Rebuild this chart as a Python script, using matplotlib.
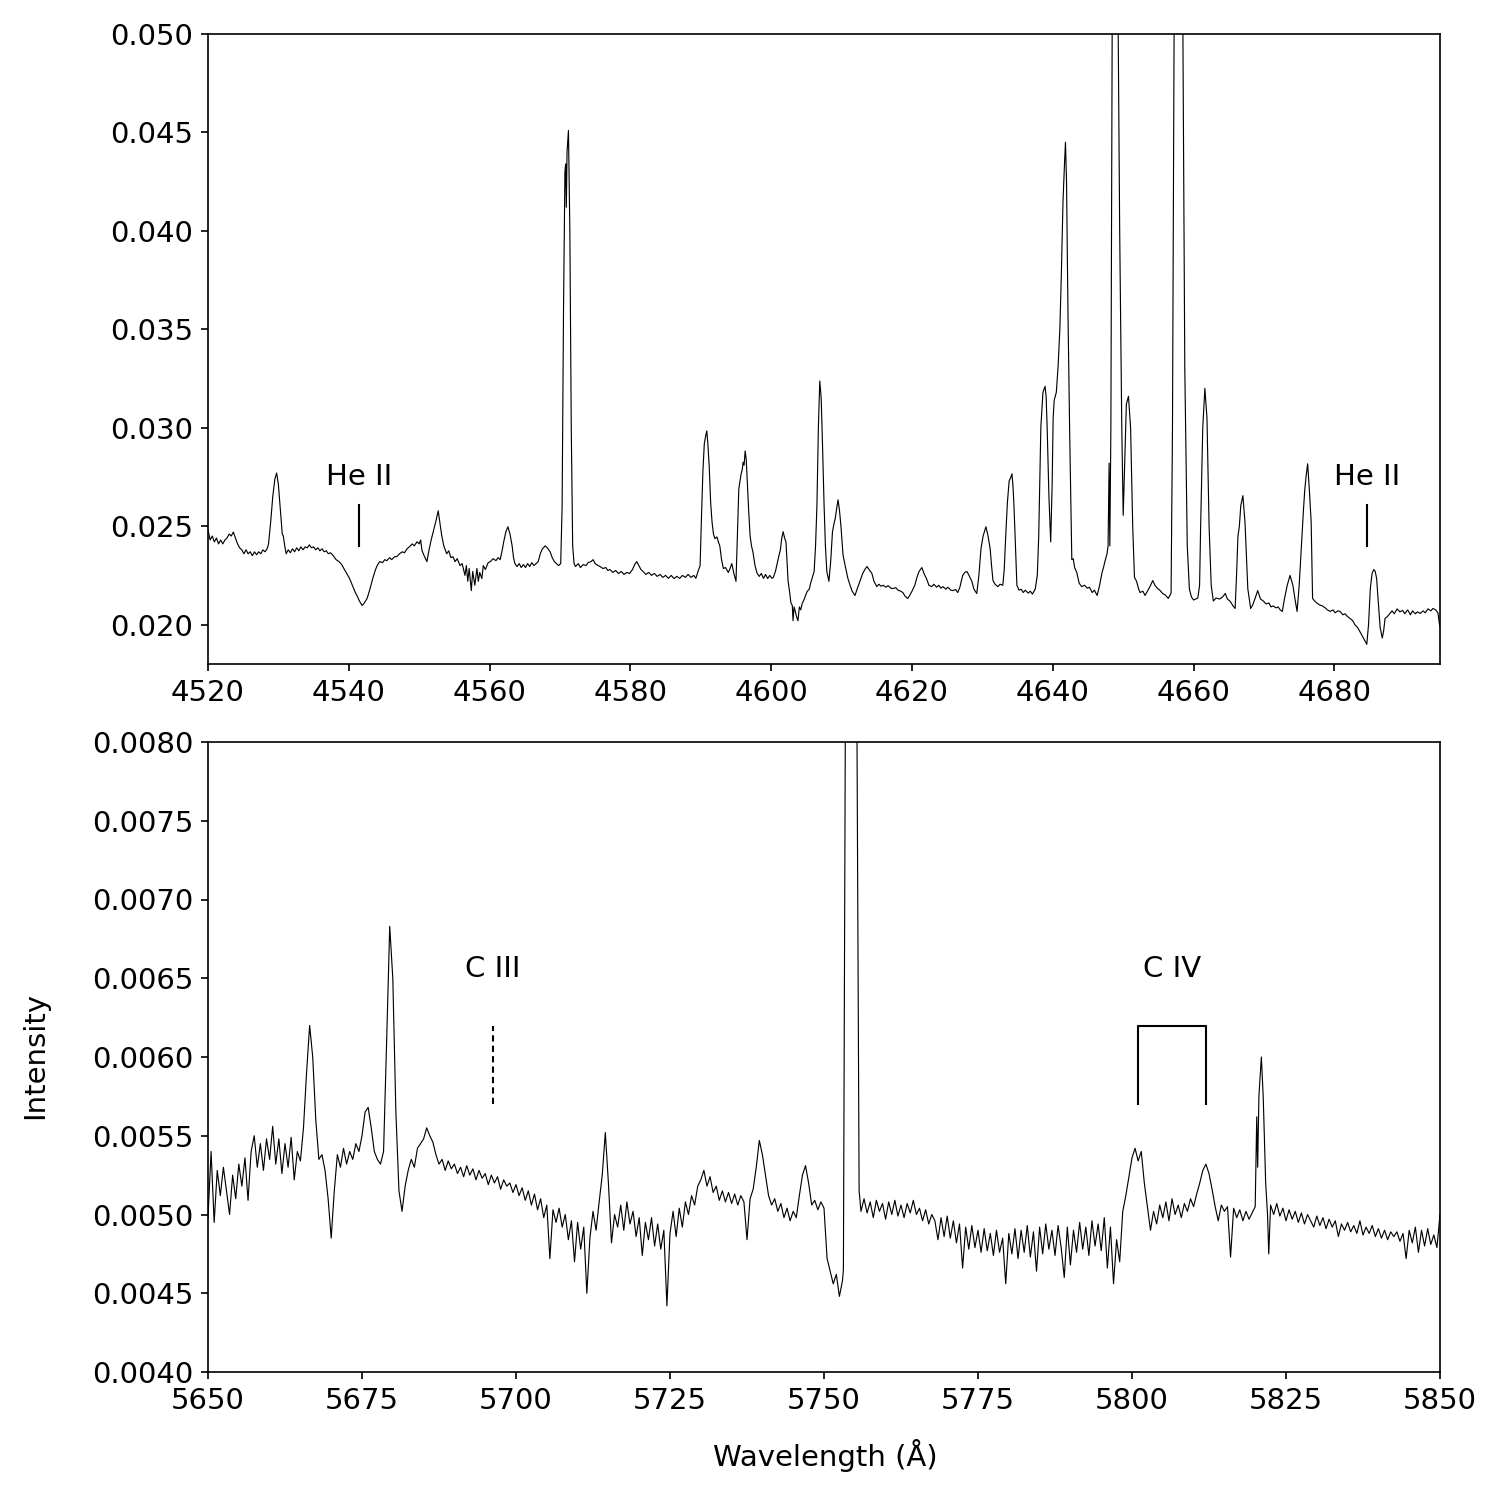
import matplotlib
matplotlib.use("Agg")
import matplotlib.pyplot as plt
from matplotlib.ticker import FormatStrFormatter
import numpy as np

# ---------------- data (intensity in units of 1e-4) ----------------
top_spectrum = [
(4520.0, 248), (4520.3, 243), (4520.6, 245), (4520.9, 242), (4521.2, 244), (4521.5, 241), (4521.8, 243), (4522.1, 241),
(4522.4, 243), (4522.7, 244), (4523.0, 246), (4523.3, 245), (4523.6, 247), (4523.9, 244), (4524.2, 241), (4524.5, 239),
(4524.8, 238), (4525.1, 236), (4525.4, 238), (4525.7, 236), (4526.0, 237), (4526.3, 235), (4526.6, 237), (4526.9, 235.5),
(4527.2, 237), (4527.5, 236), (4527.8, 238), (4528.1, 237), (4528.4, 238.5), (4528.6, 241), (4528.9, 252), (4529.2, 265),
(4529.5, 274), (4529.75, 277), (4530.0, 271), (4530.3, 257), (4530.55, 246), (4530.7, 245), (4530.9, 240), (4531.1, 236),
(4531.4, 238), (4531.7, 236.5), (4532.0, 238.5), (4532.3, 237), (4532.6, 239), (4532.9, 237.5), (4533.2, 239.5), (4533.5, 238),
(4533.8, 239.5), (4534.1, 239), (4534.4, 240.5), (4534.7, 239), (4535.0, 239.5), (4535.3, 238), (4535.6, 239), (4535.9, 237.5),
(4536.2, 238.5), (4536.5, 237), (4536.8, 237.5), (4537.1, 236), (4537.4, 236.5), (4537.8, 235), (4538.2, 233), (4538.6, 232),
(4539.0, 230.5), (4539.3, 228.5), (4539.7, 226), (4540.1, 223.5), (4540.5, 220), (4540.9, 216.5), (4541.2, 214.5), (4541.5, 212),
(4541.9, 209.7), (4542.2, 211), (4542.6, 213.3), (4543.0, 218), (4543.4, 223.4), (4543.8, 228), (4544.1, 230.5), (4544.4, 232),
(4544.8, 231.5), (4545.1, 233), (4545.4, 232.5), (4545.8, 234), (4546.1, 233), (4546.5, 234.5), (4546.8, 234.5), (4547.2, 236),
(4547.6, 237), (4547.9, 236.5), (4548.3, 238.6), (4548.6, 239.5), (4549.0, 241), (4549.3, 240), (4549.7, 242.1), (4550.0, 241),
(4550.2, 243), (4550.4, 237.6), (4550.7, 235), (4551.1, 232), (4551.4, 238), (4551.7, 243), (4552.0, 247.2), (4552.4, 253),
(4552.7, 257.8), (4553.0, 250), (4553.2, 245.2), (4553.5, 240), (4553.9, 236), (4554.2, 237.5), (4554.5, 234), (4554.8, 234.5),
(4555.1, 232), (4555.4, 233.5), (4555.8, 230), (4556.1, 231), (4556.5, 225), (4556.7, 230), (4556.9, 222), (4557.1, 228.5),
(4557.4, 217.3), (4557.6, 227), (4557.9, 220), (4558.2, 228.5), (4558.4, 222), (4558.6, 226.5), (4558.9, 223.4), (4559.1, 230),
(4559.4, 228), (4559.8, 231.5), (4560.1, 232), (4560.5, 233.5), (4560.9, 232.5), (4561.2, 234), (4561.5, 233), (4561.8, 238),
(4562.0, 242), (4562.3, 247), (4562.6, 249.7), (4562.9, 246), (4563.2, 240), (4563.4, 234), (4563.6, 231), (4563.9, 229.5),
(4564.2, 231), (4564.5, 229), (4564.8, 230.5), (4565.1, 229), (4565.4, 231), (4565.7, 229.5), (4566.0, 231.5), (4566.3, 230),
(4566.6, 231), (4566.9, 232), (4567.2, 236), (4567.5, 238.5), (4567.9, 240), (4568.2, 239), (4568.6, 237), (4568.9, 234),
(4569.2, 232), (4569.5, 231), (4569.8, 230), (4570.1, 231), (4570.3, 260), (4570.5, 360), (4570.7, 430), (4570.8, 434),
(4570.9, 412), (4571.0, 440), (4571.2, 451), (4571.4, 400), (4571.6, 300), (4571.8, 240), (4572.0, 231), (4572.2, 229.5),
(4572.6, 231), (4572.9, 229), (4573.3, 230.5), (4573.7, 230), (4574.0, 231.5), (4574.4, 232), (4574.7, 233), (4575.0, 231),
(4575.4, 230), (4575.7, 229.5), (4576.1, 228.5), (4576.5, 229), (4576.8, 227.5), (4577.1, 228), (4577.5, 226.5), (4577.9, 227.5),
(4578.3, 226), (4578.7, 227), (4579.1, 225.5), (4579.5, 226.5), (4579.9, 226), (4580.3, 228), (4580.6, 230.5), (4580.9, 232),
(4581.2, 230), (4581.5, 228), (4581.8, 227), (4582.2, 225.5), (4582.6, 226.5), (4583.0, 225), (4583.4, 226), (4583.8, 224.5),
(4584.2, 225.5), (4584.6, 224), (4585.0, 225), (4585.4, 223.5), (4585.8, 225), (4586.2, 223.4), (4586.6, 224.5), (4587.0, 223.5),
(4587.4, 225), (4587.8, 224), (4588.2, 225.5), (4588.6, 224), (4589.0, 225), (4589.3, 223.5), (4589.6, 227), (4589.9, 230),
(4590.1, 255), (4590.3, 278), (4590.5, 292), (4590.7, 296), (4590.85, 298.4), (4591.0, 292), (4591.2, 280), (4591.4, 262),
(4591.6, 252), (4591.8, 246), (4592.0, 243.7), (4592.3, 244.5), (4592.5, 242), (4592.7, 240), (4592.95, 233), (4593.2, 228.5),
(4593.5, 229), (4593.9, 226.5), (4594.1, 228), (4594.4, 231), (4594.7, 226), (4595.0, 222), (4595.2, 245), (4595.4, 269),
(4595.7, 276), (4595.9, 279), (4596.0, 282.5), (4596.15, 281), (4596.3, 288.2), (4596.45, 284), (4596.6, 272.5), (4596.8, 258),
(4597.0, 245.2), (4597.2, 240), (4597.4, 237), (4597.7, 230), (4598.0, 226), (4598.3, 224.5), (4598.6, 226), (4598.9, 223.5),
(4599.2, 225.5), (4599.5, 223.4), (4599.8, 225), (4600.1, 223.5), (4600.3, 224), (4600.6, 227), (4601.0, 233.5), (4601.3, 238),
(4601.5, 244), (4601.7, 247.2), (4601.9, 244), (4602.1, 242), (4602.25, 232), (4602.4, 222), (4602.6, 217), (4602.8, 211),
(4603.0, 209.7), (4603.1, 202), (4603.25, 209), (4603.4, 207), (4603.6, 204), (4603.8, 202), (4604.0, 209), (4604.2, 207.5),
(4604.4, 210.7), (4604.7, 213), (4604.9, 215), (4605.1, 216.8), (4605.4, 218), (4605.6, 221), (4605.8, 223.4), (4606.1, 227),
(4606.3, 240), (4606.5, 261), (4606.7, 300), (4606.9, 323.7), (4607.1, 315), (4607.3, 290), (4607.5, 262), (4607.7, 240),
(4607.9, 227), (4608.2, 222), (4608.45, 232), (4608.7, 247), (4608.9, 251), (4609.1, 254), (4609.3, 259), (4609.5, 263.4),
(4609.7, 258), (4609.9, 250.3), (4610.05, 243), (4610.2, 235.5), (4610.5, 230), (4610.9, 223.4), (4611.2, 220), (4611.5, 217),
(4611.9, 214.8), (4612.2, 218), (4612.6, 222), (4613.0, 226), (4613.3, 228), (4613.6, 229.5), (4613.9, 228), (4614.3, 226),
(4614.6, 222), (4615.0, 219.3), (4615.3, 220.5), (4615.6, 219.5), (4615.9, 220), (4616.3, 219), (4616.6, 219.8), (4617.0, 218.5),
(4617.3, 218.3), (4617.7, 218.8), (4618.0, 217.5), (4618.4, 217), (4618.7, 216.3), (4619.0, 214.5), (4619.4, 213.3), (4619.7, 215),
(4620.0, 217), (4620.4, 220), (4620.7, 224), (4621.0, 227), (4621.4, 229), (4621.7, 226), (4622.1, 223), (4622.4, 220),
(4622.8, 219.3), (4623.1, 220.5), (4623.5, 219), (4623.8, 220), (4624.1, 218.5), (4624.4, 219.3), (4624.8, 218), (4625.1, 219),
(4625.5, 217.5), (4625.8, 217.3), (4626.2, 217.8), (4626.5, 216.3), (4626.8, 219), (4627.2, 225), (4627.5, 226.5), (4627.8, 227),
(4628.1, 225), (4628.5, 222), (4628.8, 218), (4629.2, 215.8), (4629.5, 225), (4629.8, 238.6), (4630.1, 245), (4630.5, 249.7),
(4630.8, 245), (4631.1, 238.6), (4631.3, 230), (4631.5, 222.4), (4631.8, 220.5), (4632.2, 219.3), (4632.5, 220.5), (4632.9, 220),
(4633.1, 228), (4633.3, 244), (4633.55, 262), (4633.8, 273), (4634.0, 274.5), (4634.2, 276.6), (4634.35, 270), (4634.5, 259),
(4634.7, 240), (4634.9, 220), (4635.2, 217.5), (4635.5, 218), (4635.8, 216.3), (4636.1, 217.5), (4636.5, 216), (4636.8, 217),
(4637.1, 215.5), (4637.5, 218), (4637.8, 225), (4638.0, 245), (4638.3, 300), (4638.6, 318), (4638.9, 321), (4639.05, 316),
(4639.2, 300), (4639.45, 265), (4639.7, 242), (4639.9, 270), (4640.05, 305), (4640.2, 314), (4640.5, 318), (4640.75, 331),
(4641.0, 350), (4641.2, 376), (4641.45, 415), (4641.65, 433), (4641.8, 445), (4641.95, 425), (4642.15, 360), (4642.4, 297),
(4642.7, 233), (4642.9, 233.5), (4643.1, 229), (4643.4, 226.5), (4643.75, 221), (4644.1, 219.3), (4644.5, 220), (4644.9, 218.5),
(4645.2, 219), (4645.6, 216.3), (4645.9, 217.5), (4646.3, 214.8), (4646.65, 220), (4647.0, 226.5), (4647.2, 229), (4647.4, 232),
(4647.7, 236), (4647.85, 240), (4648.0, 282), (4648.1, 240), (4648.25, 300), (4648.45, 520), (4648.85, 700), (4649.25, 520),
(4649.5, 400), (4649.8, 300), (4650.0, 255.5), (4650.2, 280), (4650.45, 312), (4650.75, 316), (4651.05, 300), (4651.35, 250),
(4651.6, 224), (4651.9, 222), (4652.2, 218), (4652.4, 216.3), (4652.8, 217), (4653.1, 214.8), (4653.45, 217), (4653.8, 219.3),
(4654.2, 222.4), (4654.5, 220), (4654.9, 218.3), (4655.2, 217.5), (4655.6, 215.8), (4656.0, 215), (4656.4, 213.3), (4656.8, 216),
(4657.0, 300), (4657.25, 520), (4657.85, 800), (4658.45, 520), (4658.75, 330), (4659.1, 240), (4659.4, 218), (4659.7, 214),
(4660.0, 212.5), (4660.3, 213), (4660.6, 213.5), (4660.85, 220), (4661.0, 250), (4661.3, 300), (4661.6, 320), (4661.9, 305),
(4662.2, 250), (4662.5, 220), (4662.8, 212), (4663.2, 213.5), (4663.7, 213), (4664.1, 214), (4664.5, 215.8), (4664.8, 213),
(4665.2, 211.8), (4665.6, 209.5), (4665.9, 208.2), (4666.1, 225), (4666.3, 245), (4666.5, 250), (4666.7, 260.4), (4667.0, 265.5),
(4667.3, 252), (4667.5, 235), (4667.7, 218.3), (4668.1, 208.2), (4668.4, 210), (4668.8, 214), (4669.1, 217.3), (4669.5, 213),
(4669.9, 212), (4670.3, 210.5), (4670.7, 211), (4671.0, 209), (4671.3, 209.5), (4671.7, 208.5), (4672.0, 209), (4672.3, 207.5),
(4672.6, 206.7), (4672.9, 213), (4673.3, 220), (4673.7, 225), (4674.1, 220), (4674.4, 213), (4674.7, 206.7), (4675.0, 220),
(4675.4, 245), (4675.6, 258), (4675.8, 269), (4676.0, 276), (4676.2, 281.7), (4676.45, 268), (4676.7, 252), (4676.9, 213.3),
(4677.2, 212), (4677.5, 211), (4677.9, 210), (4678.3, 209.5), (4678.7, 208.5), (4679.0, 207.5), (4679.4, 206.7), (4679.8, 207.5),
(4680.1, 206), (4680.5, 207), (4680.8, 206.7), (4681.2, 205), (4681.5, 205.5), (4681.9, 204), (4682.2, 203.2), (4682.6, 202),
(4682.9, 200), (4683.3, 198.5), (4683.6, 196.6), (4684.0, 194), (4684.3, 192), (4684.6, 190), (4684.85, 200), (4685.1, 218.3),
(4685.35, 226), (4685.6, 228), (4685.8, 227), (4686.0, 223.4), (4686.2, 213), (4686.5, 198.5), (4686.8, 193.2), (4687.0, 197),
(4687.2, 203.2), (4687.5, 204), (4687.9, 205.7), (4688.2, 207), (4688.5, 205.5), (4688.9, 208), (4689.3, 206.5), (4689.7, 207.2),
(4690.0, 205.5), (4690.4, 207.5), (4690.8, 205), (4691.1, 207), (4691.5, 205.5), (4691.8, 206.5), (4692.2, 205.7), (4692.6, 207),
(4692.9, 206), (4693.3, 208), (4693.7, 207), (4694.0, 208.2), (4694.4, 207.5), (4694.7, 206), (4694.9, 200.8), (4695.0, 199),
]

bottom_spectrum = [
(5650.0, 49.8), (5650.5, 54.0), (5651.0, 49.5), (5651.5, 52.8), (5652.0, 51.2), (5652.5, 53.0), (5653.0, 51.5), (5653.5, 50.0),
(5654.0, 52.5), (5654.5, 51.0), (5655.0, 53.2), (5655.5, 51.8), (5656.0, 53.6), (5656.5, 50.9), (5657.0, 54.0), (5657.5, 55.0),
(5658.0, 53.0), (5658.5, 54.5), (5659.0, 52.8), (5659.5, 54.8), (5660.0, 53.5), (5660.5, 55.6), (5661.0, 53.2), (5661.5, 54.8),
(5662.0, 52.6), (5662.5, 54.5), (5663.0, 53.0), (5663.5, 54.9), (5664.0, 52.2), (5664.5, 54.0), (5665.0, 53.4), (5665.5, 55.5),
(5666.0, 59.0), (5666.5, 62.0), (5667.0, 60.0), (5667.5, 56.0), (5668.0, 53.5), (5668.5, 53.8), (5669.0, 52.8), (5669.5, 51.0),
(5670.0, 48.5), (5670.5, 51.5), (5671.0, 53.8), (5671.5, 53.0), (5672.0, 54.2), (5672.5, 53.2), (5673.0, 54.0), (5673.5, 53.5),
(5674.0, 54.5), (5674.5, 54.0), (5675.0, 55.0), (5675.5, 56.5), (5676.0, 56.8), (5676.5, 55.5), (5677.0, 54.0), (5677.5, 53.5),
(5678.0, 53.2), (5678.5, 54.0), (5679.0, 61.0), (5679.5, 68.3), (5680.0, 65.0), (5680.5, 56.5), (5681.0, 51.5), (5681.5, 50.2),
(5682.0, 51.8), (5682.5, 52.8), (5683.0, 53.5), (5683.5, 53.0), (5684.0, 54.2), (5684.5, 54.5), (5685.0, 54.8), (5685.5, 55.5),
(5686.0, 55.0), (5686.5, 54.6), (5687.0, 53.8), (5687.5, 53.2), (5688.0, 53.5), (5688.5, 52.8), (5689.0, 53.4), (5689.5, 52.9),
(5690.0, 53.2), (5690.5, 52.6), (5691.0, 53.0), (5691.5, 52.4), (5692.0, 53.1), (5692.5, 52.5), (5693.0, 52.9), (5693.5, 52.2),
(5694.0, 52.8), (5694.5, 52.3), (5695.0, 52.6), (5695.5, 51.9), (5696.0, 52.5), (5696.5, 52.0), (5697.0, 52.4), (5697.5, 51.6),
(5698.0, 52.2), (5698.5, 51.8), (5699.0, 52.0), (5699.5, 51.4), (5700.0, 51.9), (5700.5, 51.2), (5701.0, 51.7), (5701.5, 50.9),
(5702.0, 51.5), (5702.5, 50.6), (5703.0, 51.3), (5703.5, 50.3), (5704.0, 51.0), (5704.5, 49.8), (5705.0, 50.6), (5705.5, 47.2),
(5706.0, 50.3), (5706.5, 49.5), (5707.0, 50.4), (5707.5, 49.2), (5708.0, 50.0), (5708.5, 48.4), (5709.0, 49.6), (5709.5, 47.0),
(5710.0, 49.5), (5710.5, 47.8), (5711.0, 49.2), (5711.5, 45.0), (5712.0, 48.5), (5712.5, 50.2), (5713.0, 49.0), (5713.5, 50.8),
(5714.0, 52.5), (5714.5, 55.2), (5715.0, 52.0), (5715.5, 48.2), (5716.0, 50.0), (5716.5, 49.2), (5717.0, 50.6), (5717.5, 49.0),
(5718.0, 50.8), (5718.5, 49.4), (5719.0, 50.2), (5719.5, 48.6), (5720.0, 49.8), (5720.5, 47.4), (5721.0, 49.5), (5721.5, 48.4),
(5722.0, 49.8), (5722.5, 48.0), (5723.0, 49.4), (5723.5, 47.8), (5724.0, 49.0), (5724.5, 44.2), (5725.0, 48.8), (5725.5, 50.2),
(5726.0, 48.6), (5726.5, 50.4), (5727.0, 49.2), (5727.5, 50.8), (5728.0, 50.0), (5728.5, 51.2), (5729.0, 50.6), (5729.5, 51.8),
(5730.0, 52.2), (5730.5, 52.8), (5731.0, 51.8), (5731.5, 52.4), (5732.0, 51.4), (5732.5, 51.8), (5733.0, 50.9), (5733.5, 51.5),
(5734.0, 50.8), (5734.5, 51.4), (5735.0, 50.7), (5735.5, 51.3), (5736.0, 50.6), (5736.5, 51.2), (5737.0, 50.8), (5737.5, 48.4),
(5738.0, 51.0), (5738.5, 51.6), (5739.0, 53.0), (5739.5, 54.7), (5740.0, 53.8), (5740.5, 52.5), (5741.0, 51.2), (5741.5, 50.6),
(5742.0, 51.0), (5742.5, 50.2), (5743.0, 50.7), (5743.5, 49.8), (5744.0, 50.4), (5744.5, 49.6), (5745.0, 50.2), (5745.5, 49.8),
(5746.0, 51.2), (5746.5, 52.5), (5747.0, 53.1), (5747.5, 52.0), (5748.0, 50.6), (5748.5, 50.9), (5749.0, 50.3), (5749.5, 50.8),
(5750.0, 50.4), (5750.5, 47.2), (5751.0, 46.4), (5751.5, 45.6), (5752.0, 46.2), (5752.5, 44.8), (5753.0, 45.8), (5753.15, 46.5),
(5753.5, 85.0), (5754.4, 150.0), (5755.3, 85.0), (5755.7, 51.5), (5756.0, 50.2), (5756.5, 51.0), (5757.0, 50.1), (5757.5, 50.8),
(5758.0, 49.8), (5758.5, 50.9), (5759.0, 50.2), (5759.5, 50.7), (5760.0, 49.7), (5760.5, 50.8), (5761.0, 50.0), (5761.5, 50.9),
(5762.0, 49.9), (5762.5, 50.6), (5763.0, 49.8), (5763.5, 50.7), (5764.0, 50.1), (5764.5, 50.9), (5765.0, 50.0), (5765.5, 50.4),
(5766.0, 49.6), (5766.5, 50.3), (5767.0, 49.4), (5767.5, 50.0), (5768.0, 49.6), (5768.5, 48.4), (5769.0, 49.8), (5769.5, 48.6),
(5770.0, 49.9), (5770.5, 48.5), (5771.0, 49.6), (5771.5, 48.2), (5772.0, 49.4), (5772.5, 46.6), (5773.0, 49.2), (5773.5, 47.8),
(5774.0, 49.3), (5774.5, 47.9), (5775.0, 49.0), (5775.5, 47.6), (5776.0, 49.1), (5776.5, 47.7), (5777.0, 48.8), (5777.5, 47.4),
(5778.0, 49.0), (5778.5, 47.6), (5779.0, 48.5), (5779.5, 45.6), (5780.0, 48.8), (5780.5, 47.5), (5781.0, 49.1), (5781.5, 47.2),
(5782.0, 49.0), (5782.5, 47.6), (5783.0, 49.3), (5783.5, 47.3), (5784.0, 48.9), (5784.5, 46.4), (5785.0, 49.2), (5785.5, 47.5),
(5786.0, 49.4), (5786.5, 47.8), (5787.0, 49.0), (5787.5, 47.4), (5788.0, 49.3), (5788.5, 47.9), (5789.0, 46.0), (5789.5, 49.2),
(5790.0, 46.8), (5790.5, 49.0), (5791.0, 47.6), (5791.5, 49.5), (5792.0, 47.8), (5792.5, 49.2), (5793.0, 47.4), (5793.5, 49.6),
(5794.0, 48.0), (5794.5, 49.4), (5795.0, 47.7), (5795.5, 49.8), (5796.0, 46.6), (5796.5, 49.2), (5797.0, 45.6), (5797.5, 48.4),
(5798.0, 47.0), (5798.5, 50.2), (5799.0, 51.2), (5799.5, 52.4), (5800.0, 53.6), (5800.5, 54.2), (5801.0, 53.4), (5801.5, 54.0),
(5802.0, 52.0), (5802.5, 50.5), (5803.0, 49.0), (5803.5, 50.2), (5804.0, 49.4), (5804.5, 50.6), (5805.0, 49.8), (5805.5, 50.8),
(5806.0, 49.6), (5806.5, 51.0), (5807.0, 50.0), (5807.5, 50.6), (5808.0, 49.8), (5808.5, 50.7), (5809.0, 50.2), (5809.5, 51.0),
(5810.0, 50.5), (5810.5, 51.3), (5811.0, 52.0), (5811.5, 52.8), (5812.0, 53.2), (5812.5, 52.6), (5813.0, 51.6), (5813.5, 50.5),
(5814.0, 49.6), (5814.5, 50.6), (5815.0, 50.2), (5815.5, 50.5), (5816.0, 47.3), (5816.5, 50.4), (5817.0, 49.8), (5817.5, 50.3),
(5818.0, 49.6), (5818.5, 50.2), (5819.0, 49.7), (5819.5, 50.1), (5820.0, 50.5), (5820.25, 56.2), (5820.4, 53.0), (5820.6, 57.5),
(5821.0, 60.0), (5821.3, 57.5), (5821.7, 52.0), (5822.0, 50.0), (5822.2, 47.5), (5822.5, 50.6), (5823.0, 50.0), (5823.5, 50.7),
(5824.0, 49.9), (5824.5, 50.4), (5825.0, 49.6), (5825.5, 50.3), (5826.0, 49.7), (5826.5, 50.2), (5827.0, 49.5), (5827.5, 50.1),
(5828.0, 49.4), (5828.5, 50.0), (5829.0, 49.6), (5829.5, 49.2), (5830.0, 49.9), (5830.5, 49.3), (5831.0, 49.8), (5831.5, 49.1),
(5832.0, 49.7), (5832.5, 49.2), (5833.0, 49.6), (5833.5, 48.6), (5834.0, 49.4), (5834.5, 49.0), (5835.0, 49.5), (5835.5, 48.9),
(5836.0, 49.3), (5836.5, 48.8), (5837.0, 49.6), (5837.5, 48.7), (5838.0, 49.2), (5838.5, 48.8), (5839.0, 49.3), (5839.5, 48.6),
(5840.0, 49.1), (5840.5, 48.5), (5841.0, 49.0), (5841.5, 48.4), (5842.0, 48.9), (5842.5, 48.6), (5843.0, 48.9), (5843.5, 48.3),
(5844.0, 48.8), (5844.5, 47.2), (5845.0, 49.0), (5845.5, 48.2), (5846.0, 49.2), (5846.5, 47.6), (5847.0, 49.0), (5847.5, 48.0),
(5848.0, 49.1), (5848.5, 48.1), (5849.0, 48.7), (5849.5, 47.9), (5850.0, 50.0),
]

top_xticks = [4520, 4540, 4560, 4580, 4600, 4620, 4640, 4660, 4680]
top_yticks = [0.020, 0.025, 0.030, 0.035, 0.040, 0.045, 0.050]
bottom_xticks = [5650, 5675, 5700, 5725, 5750, 5775, 5800, 5825, 5850]
bottom_yticks = [0.0040, 0.0045, 0.0050, 0.0055, 0.0060, 0.0065, 0.0070, 0.0075, 0.0080]

heii_lines = [4541.4, 4684.6]
ciii_line = 5696.3
civ_lines = [5801.0, 5812.0]

# ---------------- figure ----------------
plt.rcParams['font.family'] = ['DejaVu Sans']
plt.rcParams['font.size'] = 14

fig = plt.figure(figsize=(10, 10), dpi=150)
W = H = 1500.0
ax1 = fig.add_axes([208 / W, 1 - 664 / H, 1232 / W, 630 / H])
ax2 = fig.add_axes([208 / W, 1 - 1372 / H, 1232 / W, 630 / H])

wt = np.array([p[0] for p in top_spectrum])
ft = np.array([p[1] for p in top_spectrum]) * 1e-4
ax1.plot(wt, ft, color='black', lw=0.55)
ax1.set_xlim(4520, 4695)
ax1.set_ylim(0.018, 0.050)
ax1.set_xticks(top_xticks)
ax1.set_yticks(top_yticks)
ax1.yaxis.set_major_formatter(FormatStrFormatter('%.3f'))

for wl in heii_lines:
    ax1.plot([wl, wl], [0.0240, 0.0261], color='black', lw=1.0)
    ax1.text(wl, 0.0275, 'He II', ha='center', va='center', fontsize=14)

wb = np.array([p[0] for p in bottom_spectrum])
fb = np.array([p[1] for p in bottom_spectrum]) * 1e-4
ax2.plot(wb, fb, color='black', lw=0.55)
ax2.set_xlim(5650, 5850)
ax2.set_ylim(0.0040, 0.0080)
ax2.set_xticks(bottom_xticks)
ax2.set_yticks(bottom_yticks)
ax2.yaxis.set_major_formatter(FormatStrFormatter('%.4f'))

ax2.plot([ciii_line, ciii_line], [0.0057, 0.0062], color='black', lw=1.0, linestyle='--', dashes=(3, 2))
ax2.text(ciii_line, 0.00656, 'C III', ha='center', va='center', fontsize=14)

ax2.plot([civ_lines[0], civ_lines[0], civ_lines[1], civ_lines[1]],
         [0.0057, 0.0062, 0.0062, 0.0057], color='black', lw=1.0)
ax2.text(sum(civ_lines) / 2, 0.00656, 'C IV', ha='center', va='center', fontsize=14)

for ax in (ax1, ax2):
    ax.tick_params(labelsize=14)

fig.text(825 / W, 1 - 1455 / H, 'Wavelength (Å)', ha='center', va='center', fontsize=14)
fig.text(35 / W, 1 - 1055 / H, 'Intensity', ha='center', va='center', rotation=90, fontsize=14)

fig.savefig('out.png', dpi=150)
